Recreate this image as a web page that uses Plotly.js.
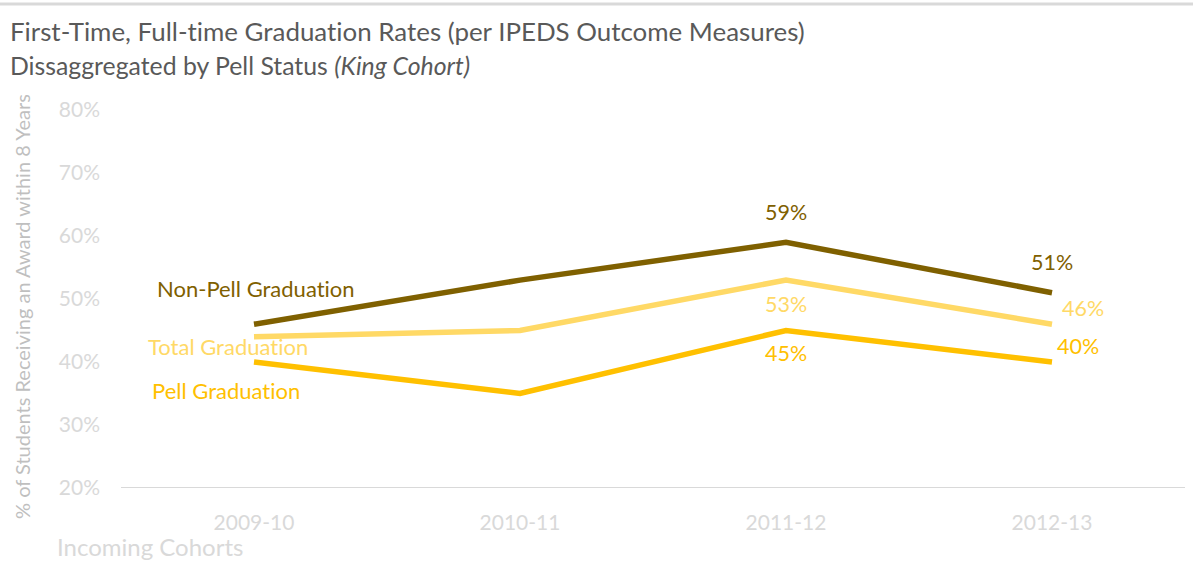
<!DOCTYPE html>
<html>
<head>
<meta charset="utf-8">
<script src="https://cdn.plot.ly/plotly-3.0.1.min.js"></script>
<style>html,body{margin:0;padding:0;background:#fff;}#chart{width:1193px;height:567px;}
svg text{font-variant-ligatures:none;font-feature-settings:"liga" 0;}</style>
</head>
<body>
<div id="chart"></div>
<script>
var cohorts = ["2009-10", "2010-11", "2011-12", "2012-13"];
var nonPell = [46, 53, 59, 51];
var total = [44, 45, 53, 46];
var pell = [40, 35, 45, 40];
var seriesNames = ["Non-Pell Graduation", "Total Graduation", "Pell Graduation"];
var yTickVals = [20, 30, 40, 50, 60, 70, 80];
var yTickText = ["20%", "30%", "40%", "50%", "60%", "70%", "80%"];

var FONT = "Lato, 'Open Sans', sans-serif";
var cNon = "#7F6000", cTot = "#FFD966", cPell = "#FFC000";

function tr(y, color, name) {
  return {x: cohorts, y: y, type: "scatter", mode: "lines", name: name,
    line: {color: color, width: 5.5}, hoverinfo: "x+y"};
}
var data = [tr(nonPell, cNon, seriesNames[0]), tr(total, cTot, seriesNames[1]), tr(pell, cPell, seriesNames[2])];

function pct(v){ return v + "%"; }
function lab(xi, y, color, text, xs, ys, size) {
  return {x: cohorts[xi], y: y, xref: "x", yref: "y", text: text, showarrow: false,
    xshift: xs, yshift: ys, font: {family: FONT, size: size || 21.5, color: color}};
}
var ann = [
  lab(2, nonPell[2], cNon, pct(nonPell[2]), 0, 30),
  lab(3, nonPell[3], cNon, pct(nonPell[3]), 0, 31),
  lab(2, total[2], cTot, pct(total[2]), 0, -24),
  lab(3, total[3], cTot, pct(total[3]), 31, 16),
  lab(2, pell[2], cPell, pct(pell[2]), 0, -22),
  lab(3, pell[3], cPell, pct(pell[3]), 26, 16),
  lab(0, nonPell[0], cNon, seriesNames[0], 2, 36, 22),
  lab(0, total[0], cTot, seriesNames[1], -26, -10, 22),
  lab(0, pell[0], cPell, seriesNames[2], -28, -28, 22),
  {xref: "paper", yref: "paper", x: (55 - 121) / 1064, y: (488 - 546) / 378, xanchor: "left", yanchor: "middle",
   text: "Incoming Cohorts", showarrow: false, font: {family: FONT, size: 24, color: "#D9D9D9"}},
  {xref: "paper", yref: "paper", x: (8 - 121) / 1064, y: (488 - 65) / 378, xanchor: "left", yanchor: "middle",
   text: "Dissaggregated by Pell Status <i>(King Cohort)</i>", showarrow: false,
   font: {family: FONT, size: 24.8, color: "#595959"}},
  {xref: "paper", yref: "paper", x: (22 - 121) / 1064, y: (488 - 307) / 378, xanchor: "center", yanchor: "middle",
   textangle: -90, text: "% of Students Receiving an Award within 8 Years", showarrow: false,
   font: {family: FONT, size: 20, color: "#BFBFBF"}}
];

var layout = {
  width: 1193, height: 567,
  margin: {l: 121, r: 8, t: 110, b: 79},
  paper_bgcolor: "#fff", plot_bgcolor: "#fff",
  showlegend: false,
  font: {family: FONT},
  title: {
    text: "First-Time, Full-time Graduation Rates (per IPEDS Outcome Measures)",
    x: 10 / 1193, xref: "container", xanchor: "left",
    y: 1 - 32 / 567, yref: "container", yanchor: "middle",
    font: {family: FONT, size: 25.9, color: "#595959"}
  },
  xaxis: {
    type: "category", range: [-0.5, 3.5], showgrid: false, zeroline: false,
    showline: false, ticks: "", ticklabelstandoff: 20,
    tickfont: {family: FONT, size: 21, color: "#D9D9D9"}, fixedrange: true
  },
  yaxis: {
    range: [20, 80], tickvals: yTickVals, ticktext: yTickText,
    showgrid: false, zeroline: false, showline: false, ticks: "", ticklabelstandoff: 20,
    tickfont: {family: FONT, size: 21, color: "#D9D9D9"},
    automargin: false, fixedrange: true
  },
  shapes: [
    {type: "line", xref: "paper", yref: "y", x0: 0, x1: 1, y0: 20, y1: 20,
     line: {color: "#D9D9D9", width: 2}},
    {type: "line", xref: "paper", yref: "paper", x0: -121 / 1064, x1: 1072 / 1064,
     y0: (488 - 4) / 378, y1: (488 - 4) / 378, line: {color: "#D9D9D9", width: 3}}
  ],
  annotations: ann
};

Plotly.newPlot("chart", data, layout, {displayModeBar: false, staticPlot: true});
</script>
</body>
</html>
